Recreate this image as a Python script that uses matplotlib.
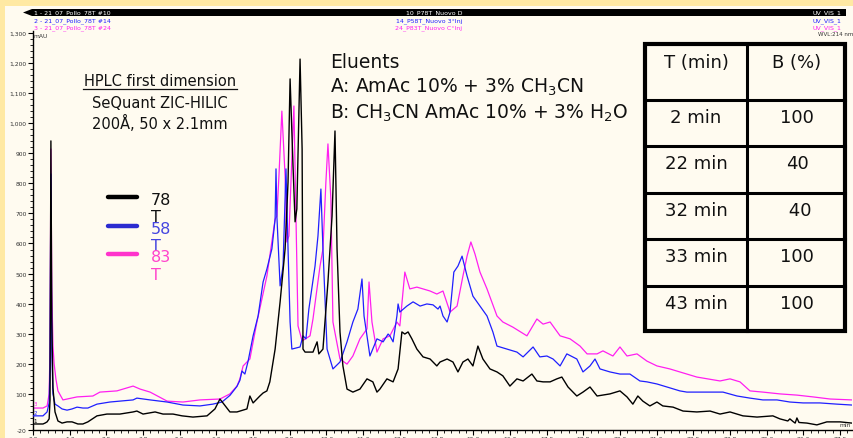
import matplotlib
matplotlib.use("Agg")
import matplotlib.pyplot as plt
from matplotlib.patches import Rectangle, Polygon
from matplotlib.lines import Line2D
from matplotlib.ticker import MultipleLocator

# chromatograms, time in min, absorbance in mAU
t_78 = [0.00, 0.34, 0.41, 0.48, 0.55, 0.58, 0.61, 0.64, 0.68, 0.75,
        0.85, 0.99, 1.16, 1.33, 1.53, 1.70, 1.87, 2.18, 2.52, 2.96,
        3.41, 3.54, 3.75, 4.16, 4.43, 4.77, 5.08, 5.45, 5.93, 6.20,
        6.37, 6.71, 6.95, 7.29, 7.39, 7.50, 7.63, 7.73, 7.84, 7.97,
        8.07, 8.25, 8.42, 8.59, 8.69, 8.76, 8.86, 8.93, 8.99, 9.10,
        9.17, 9.20, 9.27, 9.54, 9.68, 9.74, 9.88, 10.05, 10.19, 10.29,
        10.36, 10.46, 10.56, 10.70, 10.90, 11.14, 11.38, 11.58, 11.72, 11.82,
        12.06, 12.27, 12.44, 12.57, 12.67, 12.78, 12.91, 13.08, 13.29, 13.53,
        13.76, 13.87, 14.11, 14.31, 14.48, 14.65, 14.82, 14.99, 15.16, 15.33,
        15.57, 15.81, 16.01, 16.25, 16.49, 16.70, 17.00, 17.17, 17.38, 17.62,
        17.85, 18.02, 18.23, 18.53, 18.74, 18.98, 19.22, 19.66, 20.00, 20.24,
        20.44, 20.61, 20.78, 21.02, 21.26, 21.46, 21.81, 22.15, 22.62, 23.07,
        23.41, 23.75, 24.19, 24.67, 25.21, 25.45, 25.72, 25.79, 25.90, 25.97,
        26.03, 26.10, 26.37, 26.71, 27.05, 27.50, 27.90]
y_78 = [0, 0, 3, 7, 17, 80, 941, 350, 120, 40,
        10, 3, 7, 7, 0, 0, 7, 27, 33, 33,
        40, 43, 33, 40, 33, 33, 27, 23, 27, 50,
        83, 40, 40, 50, 93, 70, 83, 93, 103, 110,
        140, 249, 406, 582, 804, 1147, 858, 672, 715, 1213,
        914, 249, 239, 239, 273, 233, 249, 472, 691, 974,
        582, 306, 193, 116, 106, 116, 150, 140, 106, 116,
        150, 140, 183, 306, 299, 306, 283, 249, 223, 216,
        193, 206, 216, 206, 173, 206, 216, 193, 259, 216,
        183, 173, 160, 126, 150, 143, 166, 143, 140, 140,
        150, 156, 123, 93, 106, 123, 93, 100, 110, 90,
        66, 93, 76, 60, 73, 60, 56, 43, 40, 43,
        33, 40, 27, 23, 27, 17, 10, 17, 8, 3,
        20, 5, 3, -3, 7, 7, 3]

t_58 = [0.00, 0.34, 0.48, 0.55, 0.58, 0.61, 0.64, 0.68, 0.75, 0.85,
        0.99, 1.16, 1.33, 1.50, 1.70, 1.87, 2.18, 2.62, 3.41, 3.54,
        3.99, 4.57, 5.11, 5.69, 6.13, 6.44, 6.71, 6.95, 7.05, 7.12,
        7.22, 7.33, 7.50, 7.67, 7.84, 7.97, 8.14, 8.25, 8.28, 8.31,
        8.42, 8.52, 8.62, 8.69, 8.76, 8.82, 9.10, 9.20, 9.30, 9.40,
        9.61, 9.71, 9.81, 9.88, 10.02, 10.22, 10.46, 10.70, 10.90, 11.07,
        11.21, 11.28, 11.38, 11.48, 11.72, 11.93, 12.10, 12.16, 12.27, 12.40,
        12.44, 12.50, 12.74, 12.95, 13.19, 13.42, 13.63, 13.80, 13.87, 13.97,
        14.11, 14.21, 14.34, 14.48, 14.62, 14.79, 14.99, 15.23, 15.47, 15.67,
        15.81, 16.15, 16.49, 16.70, 17.04, 17.27, 17.51, 17.72, 17.96, 18.19,
        18.53, 18.74, 18.98, 19.15, 19.32, 19.66, 20.00, 20.34, 20.68, 20.92,
        21.26, 21.60, 22.04, 22.28, 22.62, 23.07, 23.51, 23.99, 24.43, 24.87,
        25.35, 25.79, 26.24, 26.81, 27.39, 27.90]
y_58 = [27, 27, 40, 70, 200, 831, 250, 100, 66, 60,
        50, 46, 50, 56, 53, 53, 66, 73, 80, 86,
        80, 73, 63, 60, 66, 73, 95, 125, 145, 176,
        166, 209, 293, 359, 472, 515, 582, 681, 848, 691,
        459, 525, 848, 582, 339, 249, 256, 293, 283, 382,
        525, 625, 781, 582, 249, 183, 206, 273, 339, 382,
        482, 359, 293, 226, 283, 273, 299, 293, 273, 359,
        399, 372, 392, 406, 392, 399, 396, 382, 392, 359,
        339, 372, 505, 525, 558, 492, 425, 392, 359, 306,
        259, 249, 239, 223, 256, 223, 226, 216, 193, 233,
        216, 173, 193, 216, 183, 173, 166, 166, 143, 140,
        133, 123, 110, 106, 106, 106, 106, 93, 86, 80,
        80, 73, 70, 70, 66, 63]

t_83 = [0.00, 0.34, 0.48, 0.55, 0.58, 0.61, 0.64, 0.68, 0.72, 0.78,
        0.85, 1.02, 1.50, 2.04, 2.28, 2.86, 3.41, 3.65, 3.99, 4.57,
        5.11, 5.69, 6.37, 6.71, 6.95, 7.05, 7.16, 7.39, 7.63, 7.97,
        8.25, 8.31, 8.38, 8.48, 8.59, 8.65, 8.72, 8.82, 8.89, 8.96,
        9.03, 9.17, 9.44, 9.54, 9.78, 9.88, 9.98, 10.05, 10.15, 10.22,
        10.46, 10.70, 10.90, 11.14, 11.38, 11.45, 11.55, 11.72, 11.93, 12.16,
        12.40, 12.50, 12.67, 12.84, 13.08, 13.29, 13.53, 13.76, 13.97, 14.21,
        14.45, 14.65, 14.79, 14.92, 15.06, 15.23, 15.47, 15.81, 16.01, 16.35,
        16.83, 17.17, 17.38, 17.62, 17.96, 18.30, 18.64, 18.88, 19.22, 19.42,
        19.76, 20.00, 20.24, 20.58, 20.92, 21.26, 21.70, 22.04, 22.62, 23.41,
        23.75, 24.09, 24.43, 24.87, 25.45, 26.03, 26.58, 27.16, 27.90]
y_83 = [53, 53, 60, 100, 250, 914, 450, 260, 200, 150,
        110, 80, 90, 93, 106, 110, 126, 116, 106, 76,
        73, 80, 83, 100, 126, 150, 193, 216, 339, 492,
        681, 691, 824, 1040, 824, 605, 625, 881, 1057, 691,
        326, 276, 293, 349, 525, 582, 804, 931, 748, 339,
        216, 199, 226, 283, 316, 472, 339, 239, 283, 293,
        339, 326, 505, 449, 455, 449, 442, 432, 442, 372,
        392, 492, 558, 605, 565, 505, 449, 359, 339, 322,
        293, 349, 332, 339, 293, 283, 259, 233, 233, 243,
        226, 256, 226, 233, 209, 193, 183, 173, 156, 143,
        150, 140, 110, 106, 100, 96, 90, 83, 80]

x_ticks = [0.0, 1.25, 2.5, 3.75, 5.0, 6.25, 7.5, 8.75, 10.0, 11.25, 12.5,
           13.75, 15.0, 16.25, 17.5, 18.75, 20.0, 21.25, 22.5, 23.75,
           25.0, 26.25, 27.5]
x_labels = ["0.0", "1.3", "2.5", "3.8", "5.0", "6.3", "7.5", "8.8", "10.0",
            "11.3", "12.5", "13.8", "15.0", "16.3", "17.5", "18.8", "20.0",
            "21.3", "22.5", "23.8", "25.0", "26.3", "27.5"]
y_ticks = [-20, 100, 200, 300, 400, 500, 600, 700, 800, 900, 1000,
           1100, 1200, 1300]
y_labels = ["-20", "100", "200", "300", "400", "500", "600", "700", "800",
            "900", "1,000", "1,100", "1,200", "1,300"]

table_head = ["T (min)", "B (%)"]
table_times = ["2 min", "22 min", "32 min", "33 min", "43 min"]
table_b = ["100", "40", " 40", "100", "100"]

YELLOW = "#FFE9A3"
CREAM = "#FFFBF0"
BLUE = "#1F1FFF"
MAGENTA = "#FF1FF0"

W, H = 854, 439


def fx(px):
    return px / W


def fy(py):
    return 1 - py / H


fig = plt.figure(figsize=(8.54, 4.39), dpi=100, facecolor=CREAM)
fig.patches.append(Rectangle((0, fy(7)), 1, 1 - fy(7), transform=fig.transFigure,
                             facecolor=YELLOW, edgecolor="none", zorder=0))
fig.patches.append(Rectangle((0, 0), fx(5), 1, transform=fig.transFigure,
                             facecolor=YELLOW, edgecolor="none", zorder=0))

ax = fig.add_axes([fx(33), fy(431), fx(851.8) - fx(33), fy(32.4) - fy(431)])
ax.set_facecolor("none")
ax.plot(t_83, y_83, color=MAGENTA, lw=0.9, zorder=2)
ax.plot(t_58, y_58, color=BLUE, lw=0.9, zorder=3)
ax.plot(t_78, y_78, color="black", lw=1.0, zorder=4)
ax.set_xlim(0, 27.9)
ax.set_ylim(-20, 1305)

for s in ["top", "right"]:
    ax.spines[s].set_visible(False)
ax.spines["left"].set_linewidth(1.0)
ax.spines["bottom"].set_linewidth(1.0)
ax.set_xticks(x_ticks)
ax.set_xticklabels(x_labels)
ax.set_yticks(y_ticks)
ax.set_yticklabels(y_labels)
ax.xaxis.set_minor_locator(MultipleLocator(0.25))
ax.yaxis.set_minor_locator(MultipleLocator(20))
ax.tick_params(which="major", length=3.5, width=0.8, labelsize=4.3,
               labelcolor="#333333", pad=1)
ax.tick_params(which="minor", length=2, width=0.6)

# header strip
fig.patches.append(Rectangle((fx(32), fy(17)), fx(846) - fx(32), fy(10) - fy(17),
                             transform=fig.transFigure, facecolor="black",
                             edgecolor="none", zorder=1))
fig.patches.append(Polygon([(fx(23), fy(13.5)), (fx(32), fy(10)), (fx(32), fy(17))],
                           closed=True, transform=fig.transFigure,
                           facecolor="black", edgecolor="none", zorder=1))
hdr = dict(fontsize=4.5, va="center", zorder=3)
fig.text(fx(34), fy(13.5), "1 - 21_07_Pollo_78T #10", color="white", **hdr)
fig.text(fx(34), fy(21.5), "2 - 21_07_Pollo_78T #14", color=BLUE, **hdr)
fig.text(fx(34), fy(28.5), "3 - 21_07_Pollo_78T #24", color=MAGENTA, **hdr)
fig.text(fx(462), fy(13.5), "10_P78T_Nuovo D", color="white", ha="right", **hdr)
fig.text(fx(462), fy(21.5), "14_P58T_Nuovo 3°Inj", color=BLUE, ha="right", **hdr)
fig.text(fx(462), fy(28.5), "24_P83T_Nuovo C°Inj", color=MAGENTA, ha="right", **hdr)
fig.text(fx(841), fy(13.5), "UV_VIS_1", color="white", ha="right", **hdr)
fig.text(fx(841), fy(21.5), "UV_VIS_1", color=BLUE, ha="right", **hdr)
fig.text(fx(841), fy(28.5), "UV_VIS_1", color=MAGENTA, ha="right", **hdr)
fig.text(fx(853), fy(35), "WVL:214 nm", color="#333333", ha="right",
         fontsize=4, va="center")
fig.text(fx(34), fy(36), "mAU", color="#333333", fontsize=4.3, va="center")
fig.text(fx(851), fy(426), "min", color="#333333", fontsize=4.3, va="center",
         ha="right")
fig.text(fx(33.5), fy(405), "3", color=MAGENTA, fontsize=4, va="center")
fig.text(fx(33.5), fy(413.5), "2", color=BLUE, fontsize=4, va="center")
fig.text(fx(33.5), fy(422), "1", color="black", fontsize=4, va="center")

# column description
fig.text(fx(160), fy(82), "HPLC first dimension", ha="center", va="center",
         fontsize=10.5, color="#111111")
fig.add_artist(Line2D([fx(83), fx(237)], [fy(89.5), fy(89.5)], color="#111111",
                      lw=0.9, transform=fig.transFigure))
fig.text(fx(160), fy(104), "SeQuant ZIC-HILIC", ha="center", va="center",
         fontsize=10.5, color="#111111")
fig.text(fx(160), fy(123), "200Å, 50 x 2.1mm", ha="center", va="center",
         fontsize=10.5, color="#111111")

# eluents
fig.text(fx(330), fy(62), "Eluents", va="center", fontsize=13.5, color="#111111")
fig.text(fx(330), fy(87), "A: AmAc 10% + 3% CH$_3$CN", va="center",
         fontsize=13.5, color="#111111")
fig.text(fx(330), fy(113), "B: CH$_3$CN AmAc 10% + 3% H$_2$O", va="center",
         fontsize=13.5, color="#111111")

# legend
leg_colors = ["black", "#2B2BD0", "#FF33CC"]
leg_text_colors = ["#111111", "#4545E0", "#FF44CC"]
leg_names = ["78", "58", "83"]
for i in range(3):
    py = 198 + i * 28.5
    fig.add_artist(Line2D([fx(108), fx(137)], [fy(py), fy(py)], color=leg_colors[i],
                          lw=3.2, solid_capstyle="round", transform=fig.transFigure))
    fig.text(fx(151), fy(py + 3), leg_names[i], va="center", fontsize=11.5,
             color=leg_text_colors[i])
    fig.text(fx(151), fy(py + 20), "T", va="center", fontsize=11.5,
             color=leg_text_colors[i])

# gradient table
tx0, tx1, txm = 645, 845, 747
row_edges = [45, 101, 147, 194, 240, 287, 332]
fig.patches.append(Rectangle((fx(tx0), fy(row_edges[-1])), fx(tx1) - fx(tx0),
                             fy(row_edges[0]) - fy(row_edges[-1]),
                             transform=fig.transFigure, facecolor=CREAM,
                             edgecolor="black", lw=3.0, zorder=5))
fig.add_artist(Line2D([fx(txm), fx(txm)], [fy(row_edges[0]), fy(row_edges[-1])],
                      color="black", lw=2.2, transform=fig.transFigure, zorder=6))
for py in row_edges[1:-1]:
    fig.add_artist(Line2D([fx(tx0), fx(tx1)], [fy(py), fy(py)], color="black",
                          lw=2.2, transform=fig.transFigure, zorder=6))
cell = dict(ha="center", va="center", fontsize=13, color="#111111", zorder=7)
fig.text(fx(696), fy(63), table_head[0], **cell)
fig.text(fx(797), fy(63), table_head[1], **cell)
for i in range(len(table_times)):
    py = row_edges[i + 1] + 17
    fig.text(fx(696), fy(py), table_times[i], **cell)
    fig.text(fx(797), fy(py), table_b[i], **cell)

fig.savefig("out.png", dpi=100, facecolor=CREAM)
